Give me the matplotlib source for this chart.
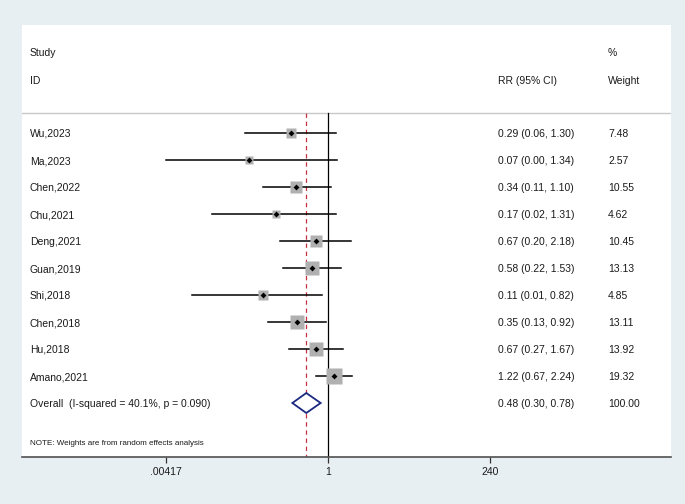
import numpy as np
import matplotlib
matplotlib.use("Agg")
import matplotlib.pyplot as plt

plt.rcParams['font.family'] = ['Liberation Sans', 'DejaVu Sans']

# --- data ---
studies = ["Wu,2023", "Ma,2023", "Chen,2022", "Chu,2021", "Deng,2021",
           "Guan,2019", "Shi,2018", "Chen,2018", "Hu,2018", "Amano,2021"]
rr = [0.29, 0.07, 0.34, 0.17, 0.67, 0.58, 0.11, 0.35, 0.67, 1.22]
ci_low = [0.06, 0.00417, 0.11, 0.02, 0.20, 0.22, 0.01, 0.13, 0.27, 0.67]
ci_high = [1.30, 1.34, 1.10, 1.31, 2.18, 1.53, 0.82, 0.92, 1.67, 2.24]
rr_text = ["0.29 (0.06, 1.30)", "0.07 (0.00, 1.34)", "0.34 (0.11, 1.10)",
           "0.17 (0.02, 1.31)", "0.67 (0.20, 2.18)", "0.58 (0.22, 1.53)",
           "0.11 (0.01, 0.82)", "0.35 (0.13, 0.92)", "0.67 (0.27, 1.67)",
           "1.22 (0.67, 2.24)"]
weights = [7.48, 2.57, 10.55, 4.62, 10.45, 13.13, 4.85, 13.11, 13.92, 19.32]

overall_label = "Overall  (I-squared = 40.1%, p = 0.090)"
overall_rr = 0.48
overall_low = 0.30
overall_high = 0.78
overall_text = "0.48 (0.30, 0.78)"
overall_weight = "100.00"

xticks = [1 / 240, 1, 240]
xticklabels = [".00417", "1", "240"]

# --- figure ---
W, H = 685, 504
bg = "#e8eff3"
fig = plt.figure(figsize=(W / 100, H / 100), dpi=100, facecolor=bg)
left, right, top, bottom = 22, 671, 25, 457
ax = fig.add_axes([left / W, (H - bottom) / H, (right - left) / W, (bottom - top) / H])
ax.set_facecolor("white")

px_per_ln = 29.6
x_one = 328
ax.set_xscale("log")
ax.set_xlim(np.exp((left - x_one) / px_per_ln), np.exp((right - x_one) / px_per_ln))
ax.set_ylim(12.0, -4.0)

n = len(studies)
rows = np.arange(n)
y_line = -0.74

# reference lines
ax.plot([1, 1], [y_line, 12.0], color="black", lw=0.9, zorder=2)
ax.plot([overall_rr, overall_rr], [y_line, 12.0], color="#c83040", lw=0.9,
        dashes=(3.5, 3), zorder=2)
ax.axhline(y_line, color="#c8c8c8", lw=1.0, zorder=1)

# study rows
for i in range(n):
    ax.plot([ci_low[i], ci_high[i]], [rows[i], rows[i]], color="black", lw=1.1, zorder=3)
    side = 2.6 + 2.93 * np.sqrt(weights[i])
    ax.plot(rr[i], rows[i], marker="s", ms=side * 0.72, color="#b0b0b0", mec="none", zorder=3)
    ax.plot(rr[i], rows[i], marker="D", ms=3.0, color="black", mec="none", zorder=4)

# overall diamond
yo = n
dh = 0.37
ax.fill([overall_low, overall_rr, overall_high, overall_rr],
        [yo, yo - dh, yo, yo + dh], facecolor="white", edgecolor="#1c2a80",
        lw=1.3, zorder=4)

# text columns
tr = ax.get_yaxis_transform()
fs = 7.5
tc = "#1a1a1a"
xs, xr, xw = (30 - left) / (right - left), (498 - left) / (right - left), (608 - left) / (right - left)
kw = dict(transform=tr, fontsize=fs, va="center_baseline", color=tc)
ax.text(xs, -3.0, "Study", **kw)
ax.text(xs, -1.96, "ID", **kw)
ax.text(xr, -1.96, "RR (95% CI)", **kw)
ax.text(xw, -3.0, "%", **kw)
ax.text(xw, -1.96, "Weight", **kw)
for i in range(n):
    ax.text(xs, rows[i], studies[i], **kw)
    ax.text(xr, rows[i], rr_text[i], **kw)
    ax.text(xw, rows[i], f"{weights[i]:.2f}", **kw)
ax.text(xs, yo, overall_label, **kw)
ax.text(xr, yo, overall_text, **kw)
ax.text(xw, yo, overall_weight, **kw)
ax.text(xs, 11.48, "NOTE: Weights are from random effects analysis", transform=tr,
        fontsize=5.8, va="center_baseline", color=tc)

# axes styling
for s in ["top", "left", "right"]:
    ax.spines[s].set_visible(False)
ax.spines["bottom"].set_color("#505050")
ax.spines["bottom"].set_linewidth(1.2)
ax.set_yticks([])
ax.set_xticks(xticks)
ax.set_xticklabels(xticklabels)
ax.minorticks_off()
ax.tick_params(axis="x", direction="out", length=4, width=0.9, color="#333333",
               labelsize=fs, labelcolor=tc, pad=3)

fig.savefig("out.png", dpi=100, facecolor=bg)
